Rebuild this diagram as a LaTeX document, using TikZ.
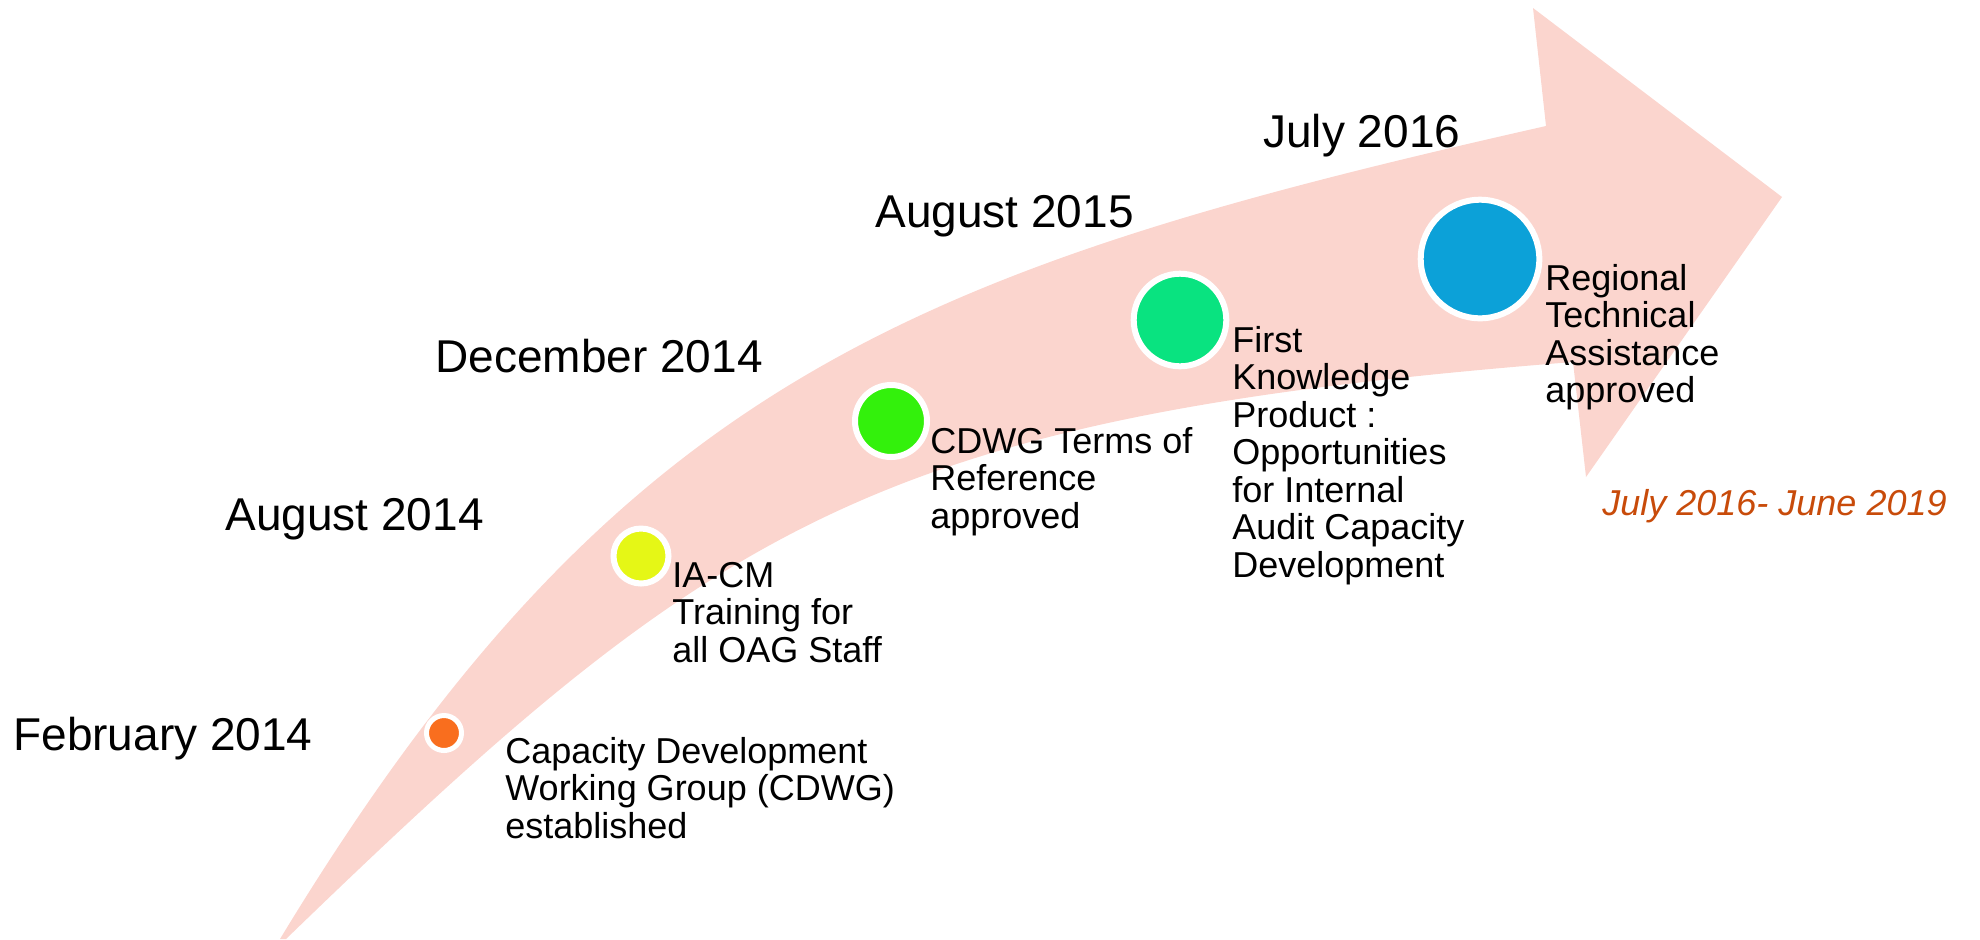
\documentclass[tikz,border=0pt]{standalone}
\usepackage{fontspec}
\setmainfont{Liberation Sans}
\definecolor{arrowpink}{RGB}{251,213,206}
\definecolor{dotorange}{RGB}{249,110,30}
\definecolor{dotyellow}{RGB}{229,247,22}
\definecolor{dotgreen}{RGB}{51,241,12}
\definecolor{dotteal}{RGB}{9,227,128}
\definecolor{dotblue}{RGB}{12,161,216}
\definecolor{periodtext}{RGB}{200,75,10}
\newcommand\linestack[1]{\vtop{\baselineskip=18.75pt\lineskip=0pt\halign{##\hfil\cr#1\crcr}}}
\begin{document}
\begin{tikzpicture}[x=0.5pt,y=-0.5pt,
  datelabel/.style={anchor=base west, inner sep=0pt, font=\fontsize{23}{27}\selectfont},
  desclabel/.style={anchor=base west, inner sep=0pt, font=\fontsize{18}{18.75}\selectfont},
  dot/.style={circle, draw=white, line width=3pt, inner sep=0pt}]
\useasboundingbox (0,0) rectangle (1980,939);
% curved arrow
\fill[arrowpink] (280,939) .. controls (617,383) and (912,269) .. (1546,126)
  -- (1533,8) -- (1782,197) -- (1586,477) -- (1573,362)
  .. controls (875,417) and (717,522) .. (286,939)
  -- cycle;
% milestone dots
\node[dot, fill=dotorange, line width=2.5pt, minimum size=17.5pt] (d1) at (444,733) {};
\node[dot, fill=dotyellow, minimum size=27.5pt] (d2) at (641,556) {};
\node[dot, fill=dotgreen, minimum size=36pt] (d3) at (891,421) {};
\node[dot, fill=dotteal, minimum size=46.3pt] (d4) at (1180,320) {};
\node[dot, fill=dotblue, minimum size=59.3pt] (d5) at (1480,259) {};
% dates
\node[datelabel] (t1) at (13,750) {February 2014};
\node[datelabel] (t2) at (225,530) {August 2014};
\node[datelabel] (t3) at (435,372) {December 2014};
\node[datelabel] (t4) at (875,227) {August 2015};
\node[datelabel] (t5) at (1263,147) {July 2016};
% descriptions
\node[desclabel] (e1) at (505,763) {\linestack{Capacity Development\cr Working Group (CDWG)\cr established}};
\node[desclabel] (e2) at (672,587) {\linestack{IA-CM\cr Training for\cr all OAG Staff}};
\node[desclabel] (e3) at (930,453) {\linestack{CDWG Terms of\cr Reference\cr approved}};
\node[desclabel] (e4) at (1232,352) {\linestack{First\cr Knowledge\cr Product :\cr Opportunities\cr for Internal\cr Audit Capacity\cr Development}};
\node[desclabel] (e5) at (1545,290) {\linestack{Regional\cr Technical\cr Assistance\cr approved}};
\node[anchor=base west, inner sep=0pt, font=\fontsize{18}{22}\selectfont\itshape, text=periodtext] (p) at (1602,515) {July 2016- June 2019};
\end{tikzpicture}
\end{document}
